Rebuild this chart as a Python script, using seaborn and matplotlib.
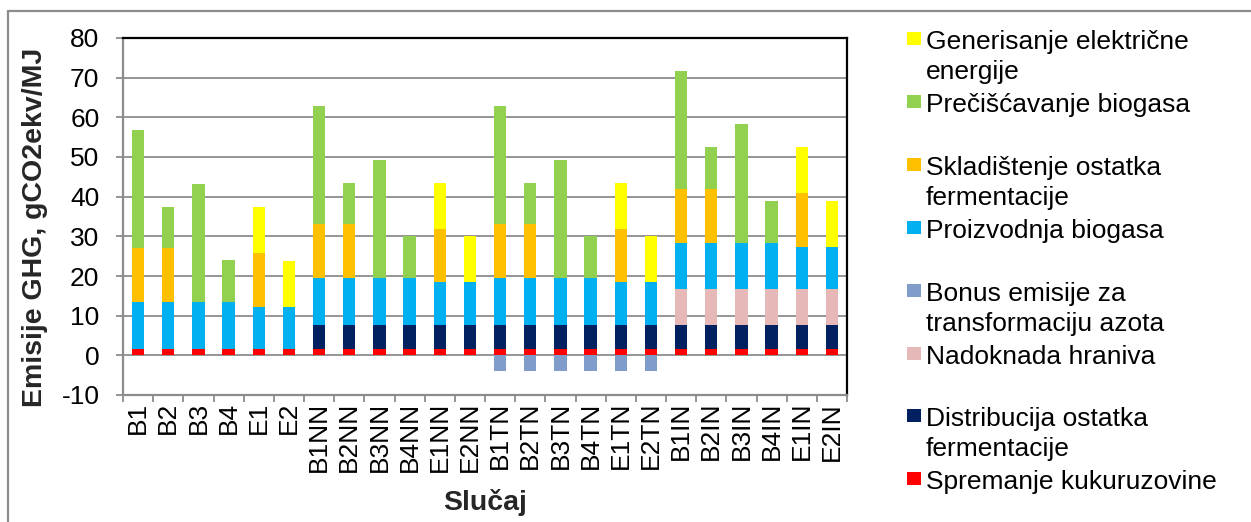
import numpy as np
import matplotlib
matplotlib.use("Agg")
import matplotlib.pyplot as plt
from matplotlib.patches import Rectangle
from matplotlib.lines import Line2D
import seaborn as sns

# Cases (x categories)
cases = ["B1", "B2", "B3", "B4", "E1", "E2",
         "B1NN", "B2NN", "B3NN", "B4NN", "E1NN", "E2NN",
         "B1TN", "B2TN", "B3TN", "B4TN", "E1TN", "E2TN",
         "B1IN", "B2IN", "B3IN", "B4IN", "E1IN", "E2IN"]

# GHG emission contributions, gCO2ekv/MJ (stack order bottom -> top)
spremanje = [1.5, 1.5, 1.5, 1.5, 1.5, 1.5,
             1.5, 1.5, 1.5, 1.5, 1.5, 1.5,
             1.5, 1.5, 1.5, 1.5, 1.5, 1.5,
             1.5, 1.5, 1.5, 1.5, 1.5, 1.5]
distribucija = [0, 0, 0, 0, 0, 0,
                6.2, 6.2, 6.2, 6.2, 6.2, 6.2,
                6.2, 6.2, 6.2, 6.2, 6.2, 6.2,
                6.2, 6.2, 6.2, 6.2, 6.2, 6.2]
nadoknada = [0, 0, 0, 0, 0, 0,
             0, 0, 0, 0, 0, 0,
             0, 0, 0, 0, 0, 0,
             8.9, 8.9, 8.9, 8.9, 8.9, 8.9]
bonus = [0, 0, 0, 0, 0, 0,
         0, 0, 0, 0, 0, 0,
         -4.0, -4.0, -4.0, -4.0, -4.0, -4.0,
         0, 0, 0, 0, 0, 0]
proizvodnja = [12.0, 12.0, 12.0, 12.0, 10.7, 10.7,
               11.8, 11.8, 11.8, 11.8, 10.7, 10.7,
               11.8, 11.8, 11.8, 11.8, 10.7, 10.7,
               11.8, 11.8, 11.8, 11.8, 10.7, 10.7]
skladistenje = [13.5, 13.5, 0, 0, 13.5, 0,
                13.5, 13.5, 0, 0, 13.5, 0,
                13.5, 13.5, 0, 0, 13.5, 0,
                13.5, 13.5, 0, 0, 13.5, 0]
preciscavanje = [29.8, 10.5, 29.8, 10.5, 0, 0,
                 29.8, 10.5, 29.8, 10.5, 0, 0,
                 29.8, 10.5, 29.8, 10.5, 0, 0,
                 29.8, 10.5, 29.8, 10.5, 0, 0]
generisanje = [0, 0, 0, 0, 11.6, 11.6,
               0, 0, 0, 0, 11.6, 11.6,
               0, 0, 0, 0, 11.6, 11.6,
               0, 0, 0, 0, 11.6, 11.6]

series_names = [["Spremanje kukuruzovine"],
                ["Distribucija ostatka", "fermentacije"],
                ["Nadoknada hraniva"],
                ["Bonus emisije za", "transformaciju azota"],
                ["Proizvodnja biogasa"],
                ["Skladištenje ostatka", "fermentacije"],
                ["Prečišćavanje biogasa"],
                ["Generisanje električne", "energije"]]
series_colors = ["#FF0000", "#002060", "#E6B9B8", "#7F9CCA",
                 "#00B0F0", "#FFC000", "#92D050", "#FFFF00"]

sns.set_theme(style="white")
plt.rcParams["font.family"] = ["Liberation Sans", "DejaVu Sans"]
plt.rcParams["axes.unicode_minus"] = False

W, H = 1251, 522
fig = plt.figure(figsize=(W / 100, H / 100), dpi=100)
ax = fig.add_axes([123 / W, 1 - 395 / H, (847 - 123) / W, (395 - 38) / H])

grid_gray = "#8C8C8C"
bar_w = 0.41

# Positive contributions stacked by drawing cumulative totals from the top down
positive = [spremanje, distribucija, nadoknada, proizvodnja,
            skladistenje, preciscavanje, generisanje]
positive_colors = [series_colors[i] for i in (0, 1, 2, 4, 5, 6, 7)]
cum = np.cumsum(np.array(positive, dtype=float), axis=0)
for level in range(len(positive) - 1, -1, -1):
    sns.barplot(x=cases, y=cum[level], order=cases, color=positive_colors[level],
                saturation=1, width=bar_w, errorbar=None, linewidth=0, ax=ax)

# Negative contribution below zero
sns.barplot(x=cases, y=bonus, order=cases, color=series_colors[3],
            saturation=1, width=bar_w, errorbar=None, linewidth=0, ax=ax)

ax.set_xlim(-0.5, len(cases) - 0.5)
ax.set_ylim(-10, 80)
ax.set_yticks(np.arange(-10, 81, 10))
ax.set_axisbelow(True)
ax.yaxis.grid(True, color=grid_gray, linewidth=1.3)
ax.xaxis.grid(False)

ax.set_xlabel("")
ax.set_ylabel("")
ax.set_xticks(np.arange(len(cases)))
ax.set_xticklabels(cases)
ax.set_xticks(np.arange(-0.5, len(cases), 1), minor=True)
ax.tick_params(axis="x", which="major", length=0, labelrotation=90, pad=5,
               labelsize=19, labelcolor="black")
ax.tick_params(axis="x", which="minor", length=5, width=1.3, color=grid_gray,
               direction="out", bottom=True)
ax.tick_params(axis="y", which="major", length=5, width=1.3, color=grid_gray,
               direction="out", left=True, pad=12, labelsize=19, labelcolor="black")

for side in ("left", "bottom"):
    ax.spines[side].set_color(grid_gray)
    ax.spines[side].set_linewidth(1.6)
for side in ("top", "right"):
    ax.spines[side].set_color("black")
    ax.spines[side].set_linewidth(1.6)
    ax.spines[side].set_visible(True)

# Axis titles
fig.text(35 / W, 1 - 227 / H, "Emisije GHG, gCO2ekv/MJ", rotation=90,
         ha="center", va="center", fontsize=20.5, fontweight="bold")
fig.text(485 / W, 1 - 503 / H, "Slučaj", ha="center", va="center",
         fontsize=20.5, fontweight="bold")

# Legend, top entry first; each entry gets a two-line slot
legend_order = [7, 6, 5, 4, 3, 2, 1, 0]
first_baseline = 49
slot = 62.9
line_step = 30
for k, idx in enumerate(legend_order):
    base = first_baseline + k * slot
    fig.patches.append(Rectangle((907 / W, 1 - (base - 4) / H), 14 / W, 13 / H,
                                 transform=fig.transFigure,
                                 facecolor=series_colors[idx], edgecolor="none"))
    for j, line in enumerate(series_names[idx]):
        fig.text(926 / W, 1 - (base + j * line_step) / H, line, ha="left",
                 va="baseline", fontsize=19, color="black")

# Chart frame
fig.add_artist(Line2D([8 / W, 8 / W], [0, 1 - 11 / H], transform=fig.transFigure,
                      color=grid_gray, linewidth=1.6))
fig.add_artist(Line2D([8 / W, 1], [1 - 11 / H, 1 - 11 / H], transform=fig.transFigure,
                      color=grid_gray, linewidth=1.6))

fig.savefig("out.png", dpi=100, facecolor="white")
